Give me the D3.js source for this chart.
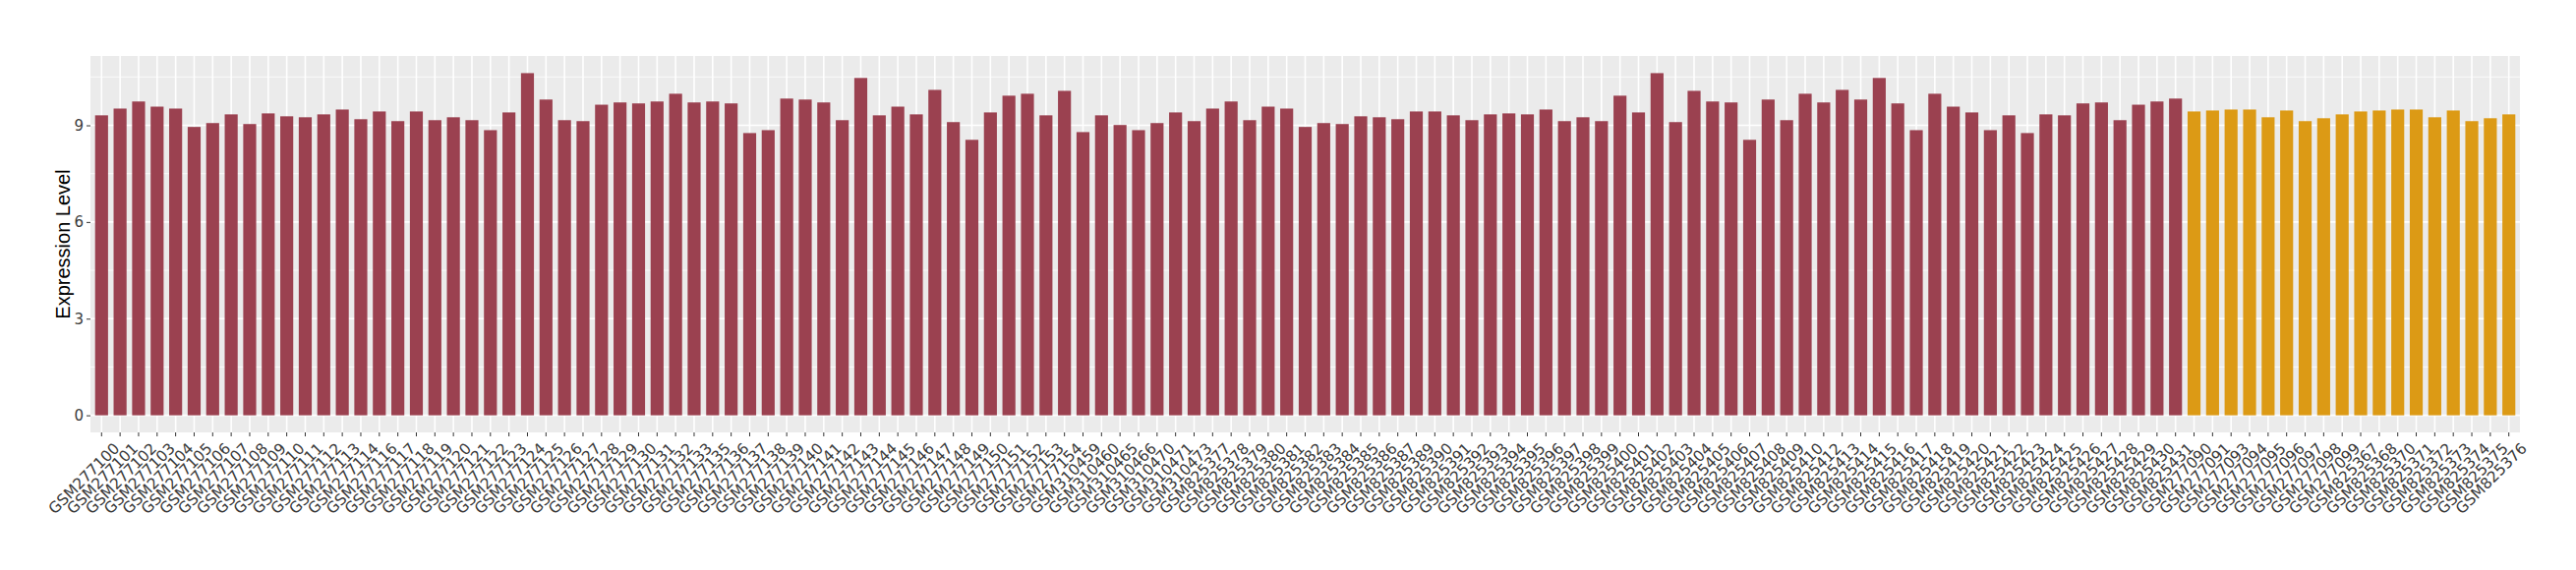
<!DOCTYPE html>
<html>
<head>
<meta charset="utf-8">
<script src="https://cdn.jsdelivr.net/npm/d3@7"></script>
<style>
  body { margin: 0; background: #fff; }
</style>
</head>
<body>
<svg id="chart" width="2620" height="580"></svg>
<script>
// sample ids, left to right
const samples = [
  "GSM277100", "GSM277101", "GSM277102", "GSM277103", "GSM277104", "GSM277105", "GSM277106", "GSM277107",
  "GSM277108", "GSM277109", "GSM277110", "GSM277111", "GSM277112", "GSM277113", "GSM277114", "GSM277116",
  "GSM277117", "GSM277118", "GSM277119", "GSM277120", "GSM277121", "GSM277122", "GSM277123", "GSM277124",
  "GSM277125", "GSM277126", "GSM277127", "GSM277128", "GSM277129", "GSM277130", "GSM277131", "GSM277132",
  "GSM277133", "GSM277135", "GSM277136", "GSM277137", "GSM277138", "GSM277139", "GSM277140", "GSM277141",
  "GSM277142", "GSM277143", "GSM277144", "GSM277145", "GSM277146", "GSM277147", "GSM277148", "GSM277149",
  "GSM277150", "GSM277151", "GSM277152", "GSM277153", "GSM277154", "GSM310459", "GSM310460", "GSM310465",
  "GSM310466", "GSM310470", "GSM310471", "GSM310473", "GSM825377", "GSM825378", "GSM825379", "GSM825380",
  "GSM825381", "GSM825382", "GSM825383", "GSM825384", "GSM825385", "GSM825386", "GSM825387", "GSM825389",
  "GSM825390", "GSM825391", "GSM825392", "GSM825393", "GSM825394", "GSM825395", "GSM825396", "GSM825397",
  "GSM825398", "GSM825399", "GSM825400", "GSM825401", "GSM825402", "GSM825403", "GSM825404", "GSM825405",
  "GSM825406", "GSM825407", "GSM825408", "GSM825409", "GSM825410", "GSM825412", "GSM825413", "GSM825414",
  "GSM825415", "GSM825416", "GSM825417", "GSM825418", "GSM825419", "GSM825420", "GSM825421", "GSM825422",
  "GSM825423", "GSM825424", "GSM825425", "GSM825426", "GSM825427", "GSM825428", "GSM825429", "GSM825430",
  "GSM825431",
  "GSM277090", "GSM277091", "GSM277093", "GSM277094", "GSM277095", "GSM277096", "GSM277097", "GSM277098",
  "GSM277099", "GSM825367", "GSM825368", "GSM825370", "GSM825371", "GSM825372", "GSM825373", "GSM825374",
  "GSM825375", "GSM825376"
];

// expression values, same order as samples
const expression = [
  9.31, 9.52, 9.74, 9.58, 9.52, 8.95, 9.07, 9.34, 9.04, 9.37, 9.28, 9.25, 9.34, 9.49, 9.19, 9.43,
  9.13, 9.43, 9.16, 9.25, 9.16, 8.85, 9.40, 10.62, 9.80, 9.16, 9.13, 9.64, 9.71, 9.68, 9.74, 9.98,
  9.71, 9.74, 9.68, 8.76, 8.85, 9.83, 9.80, 9.71, 9.16, 10.47, 9.31, 9.58, 9.34, 10.10, 9.10, 8.55,
  9.40, 9.92, 9.98, 9.31, 10.07, 8.79, 9.31, 9.01, 8.85, 9.07, 9.40, 9.13, 9.52, 9.74, 9.16, 9.58,
  9.52, 8.95, 9.07, 9.04, 9.28, 9.25, 9.19, 9.43, 9.43, 9.31, 9.16, 9.34, 9.37, 9.34, 9.49, 9.13,
  9.25, 9.13, 9.92, 9.40, 10.62, 9.10, 10.07, 9.74, 9.71, 8.55, 9.80, 9.16, 9.98, 9.71, 10.10, 9.80,
  10.47, 9.68, 8.85, 9.98, 9.58, 9.40, 8.85, 9.31, 8.76, 9.34, 9.31, 9.68, 9.71, 9.16, 9.64, 9.74,
  9.83,
  9.43, 9.46, 9.49, 9.49, 9.25, 9.46, 9.13, 9.22, 9.34, 9.43, 9.46, 9.49, 9.49, 9.25, 9.46, 9.13,
  9.22, 9.34
];

// group of each sample: first 113 are group A, the rest group B
const groups = samples.map((d, i) => (i < 113 ? "A" : "B"));
const groupColors = { A: "#9B4150", B: "#DC9A15" };

const yTicks = [0, 3, 6, 9];
const yMinorTicks = [1.5, 4.5, 7.5, 10.5];

const svg = d3.select("#chart");
const panelLeft = 92, panelRight = 2563, panelTop = 57, panelBottom = 440;

const data = samples.map((s, i) => ({ sample: s, value: expression[i], group: groups[i] }));

const x = d3.scaleBand()
  .domain(samples)
  .range([panelLeft, panelRight])
  .paddingInner(0.3)
  .paddingOuter(0.25);

const yMax = d3.max(expression);
const y = d3.scaleLinear()
  .domain([-0.05 * yMax, yMax * 1.05])
  .range([panelBottom, panelTop]);

// panel background
svg.append("rect")
  .attr("x", panelLeft).attr("y", panelTop)
  .attr("width", panelRight - panelLeft).attr("height", panelBottom - panelTop)
  .attr("fill", "#EBEBEB");

// minor horizontal grid
svg.append("g").selectAll("line")
  .data(yMinorTicks)
  .join("line")
  .attr("x1", panelLeft).attr("x2", panelRight)
  .attr("y1", d => y(d)).attr("y2", d => y(d))
  .attr("stroke", "#fff").attr("stroke-width", 0.8);

// major horizontal grid
svg.append("g").selectAll("line")
  .data(yTicks)
  .join("line")
  .attr("x1", panelLeft).attr("x2", panelRight)
  .attr("y1", d => y(d)).attr("y2", d => y(d))
  .attr("stroke", "#fff").attr("stroke-width", 1.6);

// vertical grid at each sample
svg.append("g").selectAll("line")
  .data(samples)
  .join("line")
  .attr("x1", d => x(d) + x.bandwidth() / 2).attr("x2", d => x(d) + x.bandwidth() / 2)
  .attr("y1", panelTop).attr("y2", panelBottom)
  .attr("stroke", "#fff").attr("stroke-width", 1.6);

// bars
svg.append("g").selectAll("rect")
  .data(data)
  .join("rect")
  .attr("x", d => x(d.sample))
  .attr("width", x.bandwidth())
  .attr("y", d => y(d.value))
  .attr("height", d => y(0) - y(d.value))
  .attr("fill", d => groupColors[d.group]);

// y axis
const yAxis = svg.append("g")
  .attr("transform", "translate(" + panelLeft + ",0)")
  .call(d3.axisLeft(y).tickValues(yTicks).tickSize(4).tickPadding(3));
yAxis.select(".domain").remove();
yAxis.selectAll(".tick line").attr("stroke", "#333");
yAxis.selectAll(".tick text")
  .attr("fill", "#3a3a3a")
  .attr("font-family", "DejaVu Sans")
  .attr("font-size", "15px");

// x axis
const xAxis = svg.append("g")
  .attr("transform", "translate(0," + panelBottom + ")")
  .call(d3.axisBottom(x).tickSize(4).tickPadding(3));
xAxis.select(".domain").remove();
xAxis.selectAll(".tick line").attr("stroke", "#333");
xAxis.selectAll(".tick text")
  .attr("fill", "#3a3a3a")
  .attr("font-family", "DejaVu Sans")
  .attr("font-size", "15.5px")
  .attr("text-anchor", "end")
  .attr("dy", "0.75em")
  .attr("transform", "translate(6,4) rotate(-45)");

// axis title
svg.append("text")
  .attr("transform", "translate(64," + (panelTop + panelBottom) / 2 + ") rotate(-90)")
  .attr("text-anchor", "middle")
  .attr("dy", "0.35em")
  .attr("font-family", "Liberation Sans, Arial, sans-serif")
  .attr("font-size", "20px")
  .attr("fill", "#000")
  .text("Expression Level");
</script>
</body>
</html>
